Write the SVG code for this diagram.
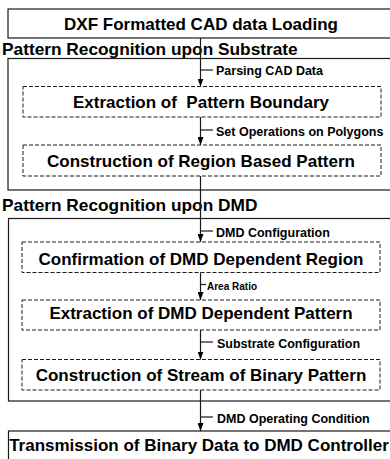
<svg xmlns="http://www.w3.org/2000/svg" width="390" height="459" viewBox="0 0 390 459">
<style>
.solid{fill:#fff;stroke:#1a1a1a;stroke-width:1.2}
.dash{fill:none;stroke:#1a1a1a;stroke-width:1;stroke-dasharray:4 2}
.big{font-family:"Liberation Sans",Arial,sans-serif;font-weight:bold;font-size:17px;fill:#000}
.ttl{font-size:17.3px}
.mid{text-anchor:middle}
.lbl{font-family:"Liberation Sans",Arial,sans-serif;font-weight:bold;font-size:12.5px;fill:#000}
.ln{stroke:#1a1a1a;stroke-width:1.2;fill:none}
</style>
<defs>
<marker id="ah" markerWidth="8" markerHeight="6" refX="8" refY="3" orient="auto" markerUnits="userSpaceOnUse">
<path d="M0,0 L8,3 L0,6 Z" fill="#000"/>
</marker>
</defs>
<rect width="390" height="459" fill="#fff"/>
<g id="outer-substrate">
<rect class="solid" x="8" y="58.5" width="390" height="131.5"/>
</g>
<g id="outer-dmd">
<rect class="solid" x="8.5" y="218.5" width="390" height="182.5"/>
</g>
<g id="load">
<rect class="solid" x="8" y="9" width="390" height="29"/>
<text class="big mid" x="201" y="30">DXF Formatted CAD data Loading</text>
</g>
<g id="title-substrate">
<text class="big ttl" x="2" y="55">Pattern Recognition upon Substrate</text>
</g>
<g id="boundary">
<rect class="dash" x="23" y="86.5" width="358" height="30.5"/>
<text class="big mid" x="201" y="108" xml:space="preserve">Extraction of  Pattern Boundary</text>
</g>
<g id="region">
<rect class="dash" x="23" y="145" width="358" height="31"/>
<text class="big mid" x="201" y="166.5">Construction of Region Based Pattern</text>
</g>
<g id="title-dmd">
<text class="big ttl" x="2" y="210.5">Pattern Recognition upon DMD</text>
</g>
<g id="confirm">
<rect class="dash" x="22" y="242" width="358" height="30.5"/>
<text class="big mid" x="201" y="265">Confirmation of DMD Dependent Region</text>
</g>
<g id="extract-dmd">
<rect class="dash" x="22" y="300" width="358" height="30"/>
<text class="big mid" x="201" y="318.5">Extraction of DMD Dependent Pattern</text>
</g>
<g id="stream">
<rect class="dash" x="22" y="359.5" width="358" height="30.5"/>
<text class="big mid" x="201" y="380.5">Construction of Stream of Binary Pattern</text>
</g>
<g id="transmit">
<rect class="solid" x="8.5" y="431" width="390" height="40"/>
<text class="big mid" x="199" y="450.5">Transmission of Binary Data to DMD Controller</text>
</g>
<g id="connectors">
<line class="ln" x1="200.5" y1="38" x2="200.5" y2="86.5" marker-end="url(#ah)"/>
<line class="ln" x1="200.5" y1="117" x2="200.5" y2="145" marker-end="url(#ah)"/>
<line class="ln" x1="200.5" y1="176" x2="200.5" y2="242" marker-end="url(#ah)"/>
<line class="ln" x1="200.5" y1="272.5" x2="200.5" y2="300" marker-end="url(#ah)"/>
<line class="ln" x1="200.5" y1="330" x2="200.5" y2="359.5" marker-end="url(#ah)"/>
<line class="ln" x1="200.5" y1="390" x2="200.5" y2="431" marker-end="url(#ah)"/>
<line class="ln" x1="200.5" y1="70" x2="213" y2="70"/>
<line class="ln" x1="200.5" y1="130" x2="213" y2="130"/>
<line class="ln" x1="200.5" y1="231" x2="213" y2="231"/>
<line class="ln" x1="200.5" y1="284.5" x2="206" y2="284.5"/>
<line class="ln" x1="200.5" y1="342" x2="213" y2="342"/>
<line class="ln" x1="200.5" y1="417" x2="213" y2="417"/>
<text class="lbl" x="216" y="75">Parsing CAD Data</text>
<text class="lbl" x="216" y="135.5">Set Operations on Polygons</text>
<text class="lbl" x="216" y="236.5">DMD Configuration</text>
<text class="lbl" x="207" y="290" style="font-size:10px">Area Ratio</text>
<text class="lbl" x="217" y="348">Substrate Configuration</text>
<text class="lbl" x="217" y="423">DMD Operating Condition</text>
</g>
</svg>
